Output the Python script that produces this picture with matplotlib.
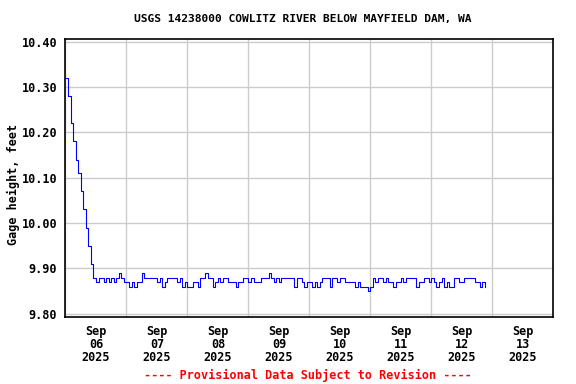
import numpy as np
import pandas as pd
import matplotlib
matplotlib.use('Agg')
import matplotlib.pyplot as plt
import matplotlib.dates as mdates

# hourly gage height (ft), starting 2025-09-06 00:00
sep06 = [10.32, 10.28, 10.22, 10.18, 10.14, 10.11, 10.07, 10.03, 9.99, 9.95, 9.91, 9.88,
         9.87, 9.88, 9.88, 9.87, 9.88, 9.87, 9.88, 9.87, 9.88, 9.89, 9.88, 9.87]
sep07 = [9.87, 9.86, 9.87, 9.86, 9.87, 9.87, 9.89, 9.88, 9.88, 9.88, 9.88, 9.88,
         9.87, 9.88, 9.86, 9.87, 9.88, 9.88, 9.88, 9.88, 9.87, 9.88, 9.86, 9.87]
sep08 = [9.86, 9.86, 9.87, 9.87, 9.86, 9.88, 9.88, 9.89, 9.88, 9.88, 9.86, 9.87,
         9.88, 9.87, 9.88, 9.88, 9.87, 9.87, 9.87, 9.86, 9.87, 9.87, 9.88, 9.88]
sep09 = [9.87, 9.88, 9.87, 9.87, 9.87, 9.88, 9.88, 9.88, 9.89, 9.88, 9.87, 9.88,
         9.87, 9.88, 9.88, 9.88, 9.88, 9.88, 9.86, 9.88, 9.88, 9.87, 9.86, 9.87]
sep10 = [9.87, 9.86, 9.87, 9.86, 9.87, 9.88, 9.88, 9.88, 9.86, 9.88, 9.88, 9.87,
         9.88, 9.88, 9.87, 9.87, 9.87, 9.87, 9.86, 9.87, 9.86, 9.86, 9.86, 9.85]
sep11 = [9.86, 9.88, 9.87, 9.88, 9.88, 9.87, 9.88, 9.87, 9.87, 9.86, 9.87, 9.87,
         9.88, 9.87, 9.88, 9.88, 9.88, 9.88, 9.86, 9.87, 9.87, 9.88, 9.88, 9.87]
sep12 = [9.88, 9.87, 9.86, 9.87, 9.88, 9.86, 9.87, 9.86, 9.86, 9.88, 9.88, 9.87,
         9.87, 9.88, 9.88, 9.88, 9.88, 9.87, 9.87, 9.86, 9.87, 9.86]

stage = sep06 + sep07 + sep08 + sep09 + sep10 + sep11 + sep12
times = pd.date_range('2025-09-06 00:00', periods=len(stage), freq='h')

y_ticks = [9.80, 9.90, 10.00, 10.10, 10.20, 10.30, 10.40]

font = 'DejaVu Sans Mono'

fig = plt.figure(figsize=(5.76, 3.84), dpi=100)
ax = fig.add_axes([0.1137, 0.1745, 0.847, 0.7232])

ax.plot(times, stage, color='#0000ff', lw=0.8, drawstyle='steps-post')

ax.set_xlim(pd.Timestamp('2025-09-06'), pd.Timestamp('2025-09-14'))
ax.set_ylim(9.793, 10.405)

ax.xaxis.set_major_locator(mdates.DayLocator())
ax.xaxis.set_major_formatter(plt.NullFormatter())
ax.xaxis.set_minor_locator(mdates.HourLocator(byhour=[12]))
ax.xaxis.set_minor_formatter(mdates.DateFormatter('%b\n%d\n%Y'))
ax.set_yticks(y_ticks)
ax.set_yticklabels(['%.2f' % v for v in y_ticks])

ax.grid(True, which='major', color='#cccccc', lw=1.0)
ax.set_axisbelow(True)
ax.tick_params(which='both', length=0)
ax.tick_params(axis='y', pad=6)
ax.tick_params(axis='x', which='minor', pad=6)
for lab in ax.get_xticklabels(minor=True) + ax.get_yticklabels():
    lab.set_fontfamily(font)
    lab.set_fontweight('bold')
    lab.set_fontsize(8.5)
    lab.set_linespacing(1.0)
for sp in ax.spines.values():
    sp.set_linewidth(1.2)

fig.text(303 / 576, 1 - 19 / 384, 'USGS 14238000 COWLITZ RIVER BELOW MAYFIELD DAM, WA',
         ha='center', va='center', family=font, weight='bold', fontsize=8.1)
fig.text(13 / 576, 1 - 184 / 384, 'Gage height, feet', rotation=90,
         ha='center', va='center', family=font, weight='bold', fontsize=8.5)
fig.text(308 / 576, 1 - 375 / 384, '---- Provisional Data Subject to Revision ----',
         ha='center', va='center', family=font, weight='bold', fontsize=8.5, color='#ff0000')

fig.savefig('out.png', dpi=100)
